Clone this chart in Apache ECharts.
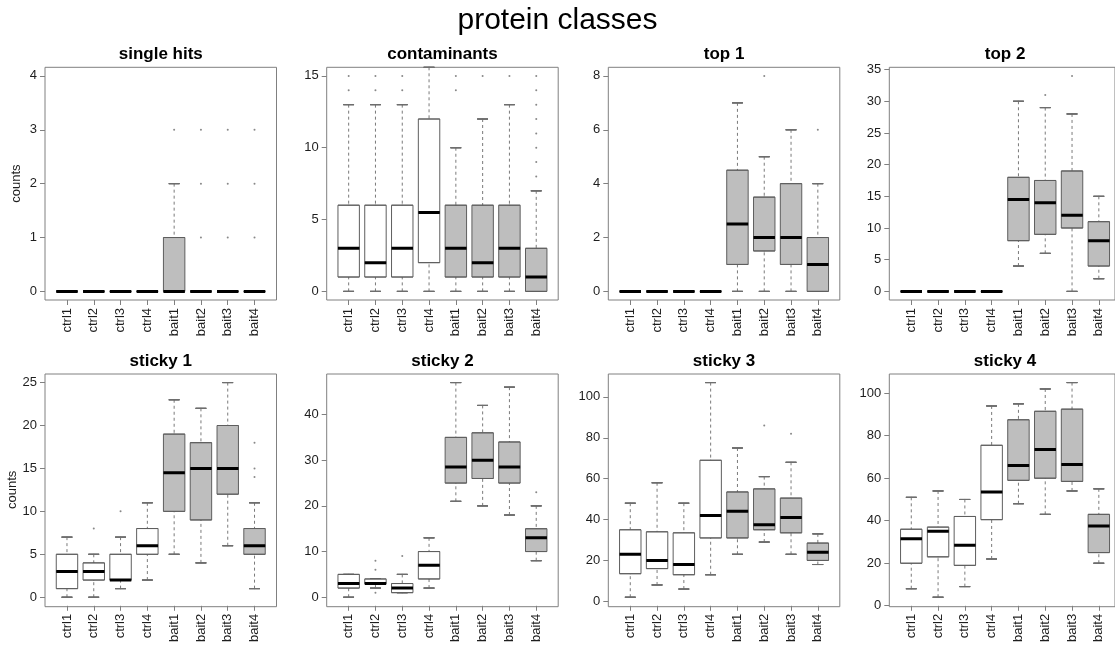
<!DOCTYPE html>
<html><head><meta charset="utf-8">
<script src="https://cdn.jsdelivr.net/npm/echarts@6/dist/echarts.min.js"></script>
<style>html,body{margin:0;padding:0;background:#fff}#chart{width:1115px;height:645px}</style>
</head><body><div id="chart"></div>
<script>
const categories = ['ctrl1','ctrl2','ctrl3','ctrl4','bait1','bait2','bait3','bait4'];
const mainTitle = 'protein classes';
const panelTitles = ['single hits','contaminants','top 1','top 2','sticky 1','sticky 2','sticky 3','sticky 4'];
const yAxisName = 'counts';

// box statistics per category: [min, Q1, median, Q3, max]
const singleHitsStats = [[0,0,0,0,0],[0,0,0,0,0],[0,0,0,0,0],[0,0,0,0,0],[0,0,0,1,2],[0,0,0,0,0],[0,0,0,0,0],[0,0,0,0,0]];
const singleHitsOutliers = [[],[],[],[],[3],[1,2,3],[1,2,3],[1,2,3]];
const singleHitsTicks = [0,1,2,3,4];
const singleHitsLimits = [0,4];

const contaminantsStats = [[0,1,3,6,13],[0,1,2,6,13],[0,1,3,6,13],[0,2,5.5,12,15.6],[0,1,3,6,10],[0,1,2,6,12],[0,1,3,6,13],[0,0,1,3,7]];
const contaminantsOutliers = [[14,15],[14,15],[14,15],[],[14,15],[15],[15],[8,9,10,11,12,13,14,15]];
const contaminantsTicks = [0,5,10,15];
const contaminantsLimits = [0,15];

const top1Stats = [[0,0,0,0,0],[0,0,0,0,0],[0,0,0,0,0],[0,0,0,0,0],[0,1,2.5,4.5,7],[0,1.5,2,3.5,5],[0,1,2,4,6],[0,0,1,2,4]];
const top1Outliers = [[],[],[],[],[],[8],[],[6]];
const top1Ticks = [0,2,4,6,8];
const top1Limits = [0,8];

const top2Stats = [[0,0,0,0,0],[0,0,0,0,0],[0,0,0,0,0],[0,0,0,0,0],[4,8,14.5,18,30],[6,9,14,17.5,29],[0,10,12,19,28],[2,4,8,11,15]];
const top2Outliers = [[],[],[],[],[],[31],[34],[]];
const top2Ticks = [0,5,10,15,20,25,30,35];
const top2Limits = [0,34];

const sticky1Stats = [[0,1,3,5,7],[0,2,3,4,5],[1,2,2,5,7],[2,5,6,8,11],[5,10,14.5,19,23],[4,9,15,18,22],[6,12,15,20,25],[1,5,6,8,11]];
const sticky1Outliers = [[],[8],[10],[],[],[],[],[14,15,18]];
const sticky1Ticks = [0,5,10,15,20,25];
const sticky1Limits = [0,25];

const sticky2Stats = [[0,2,3,5,5],[2,3,3,4,4],[1,1,2,3,5],[2,4,7,10,13],[21,25,28.5,35,47],[20,26,30,36,42],[18,25,28.5,34,46],[8,10,13,15,20]];
const sticky2Outliers = [[],[1,6,8],[9],[],[],[],[],[23]];
const sticky2Ticks = [0,10,20,30,40];
const sticky2Limits = [0,47];

const sticky3Stats = [[2,13.5,23,35,48],[8,16,20,34,58],[6,13,18,33.5,48],[13,31,42,69,107],[23,31,44,53.5,75],[29,35,37.5,55,61],[23,33.5,41,50.5,68],[18,20,24,28.5,33]];
const sticky3Outliers = [[],[],[],[],[],[86],[82],[]];
const sticky3Ticks = [0,20,40,60,80,100];
const sticky3Limits = [2,107];

const sticky4Stats = [[8,20,31.5,36,51],[4,23,35,37,54],[9,19,28.5,42,50],[22,40.5,53.5,75.5,94],[48,59,66,87.5,95],[43,60,73.5,91.5,102],[54,58.5,66.5,92.5,105],[20,25,37.5,43,55]];
const sticky4Outliers = [[],[],[],[],[],[],[],[]];
const sticky4Ticks = [0,20,40,60,80,100];
const sticky4Limits = [4,105];

const panels = [
  {stats: singleHitsStats, outliers: singleHitsOutliers, ticks: singleHitsTicks, limits: singleHitsLimits},
  {stats: contaminantsStats, outliers: contaminantsOutliers, ticks: contaminantsTicks, limits: contaminantsLimits},
  {stats: top1Stats, outliers: top1Outliers, ticks: top1Ticks, limits: top1Limits},
  {stats: top2Stats, outliers: top2Outliers, ticks: top2Ticks, limits: top2Limits},
  {stats: sticky1Stats, outliers: sticky1Outliers, ticks: sticky1Ticks, limits: sticky1Limits},
  {stats: sticky2Stats, outliers: sticky2Outliers, ticks: sticky2Ticks, limits: sticky2Limits},
  {stats: sticky3Stats, outliers: sticky3Outliers, ticks: sticky3Ticks, limits: sticky3Limits},
  {stats: sticky4Stats, outliers: sticky4Outliers, ticks: sticky4Ticks, limits: sticky4Limits}
];

// layout
const FONT = '"Liberation Sans", Arial, sans-serif';
const colLefts = [45, 326.7, 608.3, 889.3];
const rowTops = [67.3, 374];
const frameW = 231.5, frameH = 232.7;
const unit = frameW / 8.64;
const FRAME = '#808080', TEXT = '#1e1e1e';

const option = {animation: false, backgroundColor: '#ffffff', title: [], grid: [], xAxis: [], yAxis: [], series: []};
option.title.push({text: mainTitle, left: 557.5, top: 6, textAlign: 'center', padding: 0,
  textStyle: {fontFamily: FONT, fontSize: 30, fontWeight: 'normal', color: '#000', lineHeight: 30}});

panels.forEach((p, i) => {
  const r = Math.floor(i / 4), c = i % 4;
  const fl = colLefts[c], ft = rowTops[r];
  const span = p.limits[1] - p.limits[0];
  const yMin = p.limits[0] - 0.04 * span, yMax = p.limits[1] + 0.04 * span;

  option.title.push({text: panelTitles[i], left: fl + frameW / 2, top: ft - 21.5 - (r === 1 ? -0.5 : 0), textAlign: 'center', padding: 0,
    textStyle: {fontFamily: FONT, fontSize: 17, fontWeight: 'bold', color: '#000', lineHeight: 17}});

  // frame
  const fg = option.grid.length;
  option.grid.push({left: fl, top: ft, width: frameW, height: frameH, show: true, borderColor: FRAME, borderWidth: 1, backgroundColor: 'transparent'});
  option.xAxis.push({gridIndex: fg, type: 'value', show: false, min: 0, max: 1});
  option.yAxis.push({gridIndex: fg, type: 'value', show: false, min: 0, max: 1});

  // data grid
  const dg = option.grid.length;
  option.grid.push({left: fl + 0.32 * unit, top: ft, width: 8 * unit, height: frameH, show: false});
  const yIdx = option.yAxis.length;
  option.yAxis.push({gridIndex: dg, type: 'value', min: yMin, max: yMax, offset: 0.32 * unit,
    axisLine: {show: false}, splitLine: {show: false},
    axisTick: {show: true, length: 5, customValues: p.ticks, lineStyle: {color: FRAME}},
    axisLabel: {customValues: p.ticks, fontFamily: FONT, fontSize: 13, color: TEXT, margin: 8},
    name: c === 0 ? yAxisName : '', nameLocation: 'middle', nameGap: 22,
    nameTextStyle: {fontFamily: FONT, fontSize: 13, color: TEXT}});
  const xBase = option.xAxis.length;
  for (let k = 0; k < 5; k++) {
    option.xAxis.push({gridIndex: dg, type: 'category', data: categories, show: k === 0, position: 'bottom',
      axisLine: {show: false, onZero: false}, splitLine: {show: false},
      axisTick: {show: true, alignWithLabel: true, length: 5, interval: 0, lineStyle: {color: FRAME}},
      axisLabel: {rotate: 90, interval: 0, fontFamily: FONT, fontSize: 13, color: TEXT, margin: 8}});
  }

  // dashed whiskers
  option.series.push({type: 'boxplot', xAxisIndex: xBase + 1, yAxisIndex: yIdx, silent: true, z: 2,
    boxWidth: [1, 1], itemStyle: {color: 'rgba(0,0,0,0)', borderColor: '#7a7a7a', borderWidth: 1, borderType: [3, 3]},
    data: p.stats.map(s => s.slice())});
  // whisker caps (low / high)
  option.series.push({type: 'boxplot', xAxisIndex: xBase + 2, yAxisIndex: yIdx, silent: true, z: 3,
    boxWidth: ['40%', '40%'], itemStyle: {color: 'rgba(0,0,0,0)', borderColor: '#6e6e6e', borderWidth: 1},
    data: p.stats.map(s => [s[0], s[0], s[0], s[0], s[0]])});
  option.series.push({type: 'boxplot', xAxisIndex: xBase + 3, yAxisIndex: yIdx, silent: true, z: 3,
    boxWidth: ['40%', '40%'], itemStyle: {color: 'rgba(0,0,0,0)', borderColor: '#6e6e6e', borderWidth: 1},
    data: p.stats.map(s => [s[4], s[4], s[4], s[4], s[4]])});
  // boxes
  option.series.push({type: 'boxplot', xAxisIndex: xBase, yAxisIndex: yIdx, silent: true, z: 4,
    boxWidth: ['80%', '80%'], itemStyle: {borderColor: '#5e5e5e', borderWidth: 1},
    data: p.stats.map((s, j) => ({value: [s[1], s[1], s[2], s[3], s[3]],
      itemStyle: {color: categories[j].indexOf('ctrl') === 0 ? '#ffffff' : '#bebebe'}}))});
  // medians
  option.series.push({type: 'boxplot', xAxisIndex: xBase + 4, yAxisIndex: yIdx, silent: true, z: 5,
    boxWidth: ['80%', '80%'], itemStyle: {color: 'rgba(0,0,0,0)', borderColor: '#000000', borderWidth: 3},
    data: p.stats.map(s => [s[2], s[2], s[2], s[2], s[2]])});
  // outliers
  const pts = [];
  p.outliers.forEach((arr, j) => arr.forEach(v => pts.push([j, v])));
  option.series.push({type: 'scatter', xAxisIndex: xBase, yAxisIndex: yIdx, silent: true, z: 6,
    symbol: 'circle', symbolSize: 2, itemStyle: {color: '#6a6a6a'}, data: pts});
});

const chart = echarts.init(document.getElementById('chart'), null, {renderer: 'canvas'});
chart.setOption(option);
</script>
</body></html>
